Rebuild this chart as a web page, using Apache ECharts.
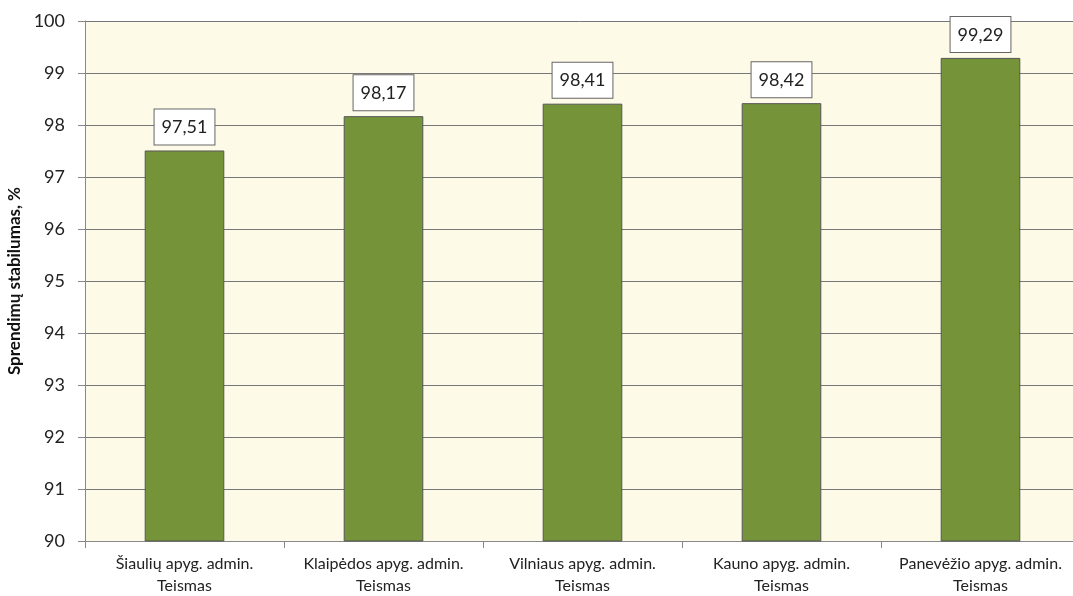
<!DOCTYPE html>
<html><head><meta charset="utf-8">
<script src="https://cdn.jsdelivr.net/npm/echarts@6/dist/echarts.min.js"></script>
<style>html,body{margin:0;padding:0;background:#fff}#c{width:1073px;height:596px}</style>
</head><body><div id="c"></div>
<script>
const categories = ["Šiaulių apyg. admin.\nTeismas","Klaipėdos apyg. admin.\nTeismas","Vilniaus apyg. admin.\nTeismas","Kauno apyg. admin.\nTeismas","Panevėžio apyg. admin.\nTeismas"];
const values = [97.51, 98.17, 98.41, 98.42, 99.29];
const yAxisName = "Sprendimų stabilumas, %";
const chart = echarts.init(document.getElementById('c'));
const FONT = 'Lato, "Open Sans", sans-serif';
chart.setOption({
  animation: false,
  textStyle: {fontFamily: FONT},
  grid: {left: 85, right: -7, top: 21, bottom: 55, backgroundColor: '#FEFAE8', show: true, borderWidth: 0,
         containLabel: false, outerBoundsMode: 'none'},
  xAxis: {
    type: 'category', data: categories,
    axisLine: {lineStyle: {color: '#888', width: 1}},
    axisTick: {show: true, length: 7, interval: 0, lineStyle: {color: '#888'}},
    axisLabel: {color: '#222', fontSize: 16, lineHeight: 22, margin: 12, interval: 0, hideOverlap: false, fontFamily: FONT}
  },
  yAxis: {
    type: 'value', min: 90, max: 100, interval: 1,
    name: yAxisName, nameLocation: 'middle', nameGap: 60, nameRotate: 90,
    nameTextStyle: {fontWeight: 'bold', fontSize: 17, color: '#111', fontFamily: FONT},
    axisLine: {show: true, lineStyle: {color: '#888'}},
    axisTick: {show: true, length: 7, lineStyle: {color: '#888'}},
    axisLabel: {color: '#222', fontSize: 18, margin: 20, fontFamily: FONT},
    splitLine: {lineStyle: {color: '#777', width: 1}}
  },
  series: [{
    type: 'bar', data: values, barWidth: '40%',
    itemStyle: {color: '#75943A', borderColor: '#555', borderWidth: 1},
    label: {
      show: true, position: 'top', distance: 6,
      formatter: p => p.value.toFixed(2).replace('.', ','),
      color: '#222', fontSize: 18, fontFamily: FONT,
      backgroundColor: '#fff', borderColor: '#666', borderWidth: 1,
      padding: [9, 7, 8, 7]
    }
  }]
});
</script></body></html>
